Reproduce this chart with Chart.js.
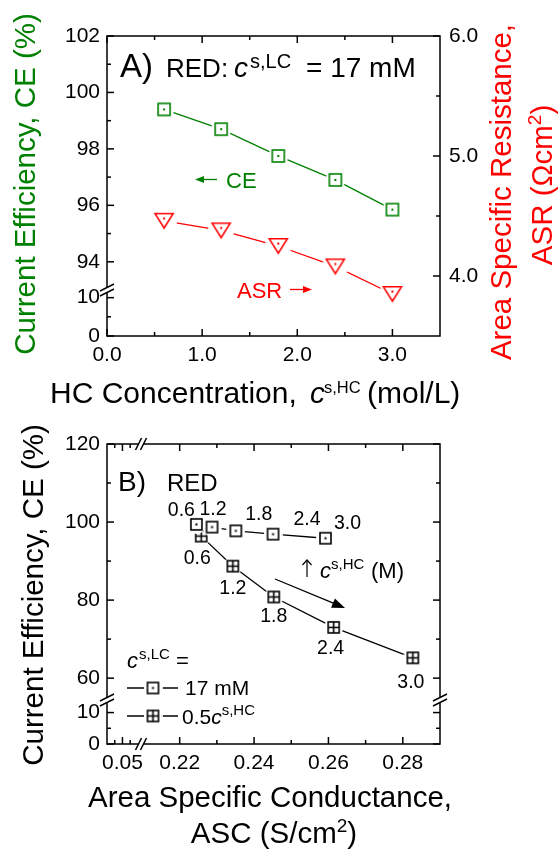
<!DOCTYPE html>
<html>
<head>
<meta charset="utf-8">
<script src="https://cdn.jsdelivr.net/npm/chart.js@4.4.0/dist/chart.umd.min.js"></script>
<style>
  html, body { margin: 0; padding: 0; background: #fff; }
  #wrap { position: relative; width: 558px; height: 849px; }
  canvas { position: absolute; left: 0; top: 0; }
</style>
</head>
<body>
<div id="wrap">
  <canvas id="chartA" width="558" height="849"></canvas>
  <canvas id="chartB" width="558" height="849"></canvas>
</div>
<script>
// HC concentration (mol/L) for each point
var hcConc = [0.6, 1.2, 1.8, 2.4, 3.0];
// panel A
var ceLC = [99.4, 98.7, 97.75, 96.9, 95.85];
var asrLC = [4.46, 4.38, 4.25, 4.08, 3.85];
// panel B
var ascLC = [0.2245, 0.2287, 0.2351, 0.2451, 0.2592];
var ascHC = [0.2258, 0.2343, 0.2453, 0.2614, 0.2827];
var ceHC = [96.4, 88.7, 80.8, 73.0, 65.2];

// tick labels
var concTicks = [0, 1, 2, 3];
var concMinor = [0.5, 1.5, 2.5];
var ceTicksA = [94, 96, 98, 100, 102];
var ceMinorA = [95, 97, 99, 101];
var lowTicks = [0, 10];
var lowMinor = [5];
var asrTicks = [4, 5, 6];
var asrMinor = [4.5, 5.5];
var ceTicksB = [60, 80, 100, 120];
var ceMinorB = [70, 90, 110];
var ascLowTicks = [0.05];
var ascLowMinor = [0.025, 0.075];
var ascTicks = [0.22, 0.24, 0.26, 0.28];
var ascMinor = [0.23, 0.25, 0.27];

var FONT = '"Liberation Sans", Arial, sans-serif';
var green = '#008000', red = '#ff0000';
Chart.defaults.font.family = FONT;
Chart.defaults.color = '#000';

function makeMarker(shape, color, inner, size) {
    var pad = 4;
    var c = document.createElement('canvas');
    c.width = c.height = size + 2 * pad;
    var g = c.getContext('2d'), m = c.width / 2;
    g.fillStyle = '#fff';
    g.beginPath(); g.arc(m, m, m, 0, Math.PI * 2); g.fill();
    g.strokeStyle = color; g.fillStyle = color; g.lineWidth = 1.6;
    if (shape === 'tri') {
        var h = size * 0.8;
        g.beginPath();
        g.moveTo(m - size / 2, m - h / 2); g.lineTo(m + size / 2, m - h / 2); g.lineTo(m, m + h / 2);
        g.closePath(); g.stroke();
        g.fillRect(m - 1, m - h / 6 - 1, 2, 2);
    } else {
        g.strokeRect(m - size / 2, m - size / 2, size, size);
        if (inner === 'dot') {
            g.fillRect(m - 1, m - 1, 2, 2);
        } else {
            g.beginPath();
            g.moveTo(m - size / 2, m); g.lineTo(m + size / 2, m);
            g.moveTo(m, m - size / 2); g.lineTo(m, m + size / 2);
            g.stroke();
        }
    }
    return c;
}
var markCE = makeMarker('sq', green, 'dot', 12);
var markASR = makeMarker('tri', red, 'dot', 18);
var markLC = makeMarker('sq', '#000', 'dot', 11);
var markHC = makeMarker('sq', '#000', 'plus', 11);

function pts(xs, ys) {
    return xs.map(function (x, i) { return {x: x, y: ys[i]}; });
}

function axis(o) {
    return {
        type: 'linear', axis: o.axis, position: o.position, min: o.min, max: o.max,
        stack: o.stack, stackWeight: o.stackWeight || 1, weight: o.weight || 0,
        grid: {display: false, drawTicks: false},
        border: {display: false},
        afterBuildTicks: function (s) { s.ticks = o.values.map(function (v) { return {value: v}; }); },
        afterFit: function (s) {
            if (o.axis === 'y') s.width = o.size; else s.height = o.size;
        },
        ticks: {
            font: {size: 21}, color: '#000', padding: o.pad, autoSkip: false, maxRotation: 0,
            callback: function (v) { return Number(v).toFixed(o.digits); }
        }
    };
}

function drawRuns(ctx, item) {
    ctx.save();
    ctx.translate(item.x, item.y);
    if (item.rot) ctx.rotate(item.rot);
    ctx.textBaseline = 'alphabetic';
    ctx.textAlign = 'left';
    ctx.fillStyle = item.color || '#000';
    var w = 0;
    item.runs.forEach(function (r) {
        ctx.font = (r.it ? 'italic ' : '') + (r.size || item.size) + 'px ' + FONT;
        r.w = ctx.measureText(r.t).width;
        w += r.w;
    });
    var cx = item.align === 'center' ? -w / 2 : 0;
    item.runs.forEach(function (r) {
        ctx.font = (r.it ? 'italic ' : '') + (r.size || item.size) + 'px ' + FONT;
        var x = r.x !== undefined ? r.x - item.x : cx;
        ctx.fillText(r.t, x, r.up ? -r.up : 0);
        cx = x + r.w;
    });
    ctx.restore();
}

// arrow from (x1,y1) to tip (x2,y2); filled or open head
function drawArrow(ctx, a) {
    var ang = Math.atan2(a.y2 - a.y1, a.x2 - a.x1), L = a.len, W = a.half;
    var c = Math.cos(ang), s = Math.sin(ang);
    ctx.save();
    ctx.strokeStyle = a.color; ctx.fillStyle = a.color; ctx.lineWidth = a.width || 1.3;
    ctx.beginPath();
    ctx.moveTo(a.x1, a.y1);
    ctx.lineTo(a.open ? a.x2 : a.x2 - (L - 1) * c, a.open ? a.y2 : a.y2 - (L - 1) * s);
    ctx.stroke();
    ctx.beginPath();
    ctx.moveTo(a.x2 - L * c + W * s, a.y2 - L * s - W * c);
    ctx.lineTo(a.x2, a.y2);
    ctx.lineTo(a.x2 - L * c - W * s, a.y2 - L * s + W * c);
    if (a.open) { ctx.stroke(); } else { ctx.closePath(); ctx.fill(); }
    ctx.restore();
}

// box, inward ticks and axis breaks
function framePlugin(spec) {
    return {
        id: 'frame',
        afterDatasetsDraw: function (chart) {
            var ctx = chart.ctx, a = chart.chartArea;
            ctx.save();
            ctx.strokeStyle = '#000';
            ctx.lineWidth = 1.5;
            ctx.strokeRect(a.left, a.top, a.right - a.left, a.bottom - a.top);
            spec.ticks.forEach(function (t) {
                var sc = chart.scales[t.scale];
                [[t.major, 7], [t.minor, 4]].forEach(function (set) {
                    set[0].forEach(function (v) {
                        var p = sc.getPixelForValue(v), L = set[1];
                        t.edges.forEach(function (e) {
                            ctx.beginPath();
                            if (e === 'left') { ctx.moveTo(a.left, p); ctx.lineTo(a.left + L, p); }
                            if (e === 'right') { ctx.moveTo(a.right, p); ctx.lineTo(a.right - L, p); }
                            if (e === 'bottom') { ctx.moveTo(p, a.bottom); ctx.lineTo(p, a.bottom - L); }
                            if (e === 'top') { ctx.moveTo(p, a.top); ctx.lineTo(p, a.top + L); }
                            ctx.stroke();
                        });
                    });
                });
            });
            spec.breaks.forEach(function (b) {
                var p = chart.scales[b.scale][b.end], g = 2.5;
                b.edges.forEach(function (e) {
                    var vert = e === 'left' || e === 'right';
                    var x = vert ? a[e] : p, y = vert ? p : a[e];
                    ctx.fillStyle = '#fff';
                    if (vert) ctx.fillRect(x - 2, y - g, 4, 2 * g);
                    else ctx.fillRect(x - g, y - 2, 2 * g, 4);
                    [-g, g].forEach(function (d) {
                        ctx.beginPath();
                        if (vert) { ctx.moveTo(x - 7, y + d + 3.5); ctx.lineTo(x + 7, y + d - 3.5); }
                        else { ctx.moveTo(x + d - 3, y + 6); ctx.lineTo(x + d + 3, y - 6); }
                        ctx.stroke();
                    });
                });
            });
            ctx.restore();
        }
    };
}

function notesPlugin(items, arrows, extra) {
    return {
        id: 'notes',
        afterDraw: function (chart) {
            var ctx = chart.ctx;
            items.forEach(function (it) { drawRuns(ctx, it); });
            arrows.forEach(function (ar) { drawArrow(ctx, ar); });
            if (extra) extra(chart, ctx);
        }
    };
}

// ---------- panel A ----------
var notesA = [
    {x: 35, y: 184, rot: -Math.PI / 2, align: 'center', size: 29.5, color: green,
        runs: [{t: 'Current Efficiency, CE (%)'}]},
    {x: 511, y: 192, rot: -Math.PI / 2, align: 'center', size: 29.5, color: red,
        runs: [{t: 'Area Specific Resistance,'}]},
    {x: 552, y: 185, rot: -Math.PI / 2, align: 'center', size: 29.5, color: red,
        runs: [{t: 'ASR (\u03A9cm'}, {t: '2', size: 19, up: 11}, {t: ')'}]},
    {x: 50, y: 403, size: 30,
        runs: [{t: 'HC Concentration,'}, {t: 'c', it: true, x: 310}, {t: 's,HC', size: 16.5, up: 10, x: 324}, {t: '(mol/L)', x: 367}]},
    {x: 120, y: 77, size: 33,
        runs: [{t: 'A)'}, {t: 'RED:', size: 26, x: 166}, {t: 'c', it: true, size: 28, x: 234},
            {t: 's,LC', size: 20, up: 9, x: 250}, {t: '= 17 mM', size: 28, x: 306}]},
    {x: 226, y: 188, size: 22, color: green, runs: [{t: 'CE'}]},
    {x: 237, y: 298, size: 22, color: red, runs: [{t: 'ASR'}]}
];
var arrowsA = [
    {x1: 217, y1: 179.5, x2: 195, y2: 179.5, len: 9, half: 3.5, color: green},
    {x1: 290, y1: 289.5, x2: 312, y2: 289.5, len: 9, half: 3.5, color: red}
];

new Chart(document.getElementById('chartA'), {
    type: 'scatter',
    data: {
        datasets: [{
            label: 'CE',
            data: pts(hcConc, ceLC),
            xAxisID: 'x', yAxisID: 'yHi',
            showLine: true, borderColor: green, borderWidth: 1.3,
            pointStyle: markCE, pointRadius: 6
        }, {
            label: 'ASR',
            data: pts(hcConc, asrLC),
            xAxisID: 'x', yAxisID: 'yR',
            showLine: true, borderColor: red, borderWidth: 1.3,
            pointStyle: markASR, pointRadius: 6
        }]
    },
    options: {
        responsive: false,
        animation: false,
        devicePixelRatio: 1,
        events: [],
        layout: {padding: {top: 36, left: 0, right: 0, bottom: 0}},
        plugins: {legend: {display: false}, tooltip: {enabled: false}},
        scales: {
            x: axis({axis: 'x', position: 'bottom', min: 0, max: 3.5, values: concTicks, digits: 1, size: 513, pad: 7}),
            yHi: axis({axis: 'y', position: 'left', min: 93, max: 102, values: ceTicksA, digits: 0, size: 107, pad: 7,
                stack: 'L', stackWeight: 254, weight: 2}),
            yLo: axis({axis: 'y', position: 'left', min: 0, max: 12, values: lowTicks, digits: 0, size: 107, pad: 7,
                stack: 'L', stackWeight: 46, weight: 1}),
            yR: axis({axis: 'y', position: 'right', min: 3.5, max: 6, values: asrTicks, digits: 1, size: 118, pad: 9})
        }
    },
    plugins: [
        framePlugin({
            ticks: [
                {scale: 'x', major: concTicks, minor: concMinor, edges: ['bottom', 'top']},
                {scale: 'yHi', major: ceTicksA, minor: ceMinorA, edges: ['left']},
                {scale: 'yLo', major: lowTicks, minor: lowMinor, edges: ['left']},
                {scale: 'yR', major: asrTicks, minor: asrMinor, edges: ['right']}
            ],
            breaks: [{scale: 'yLo', end: 'top', edges: ['left']}]
        }),
        notesPlugin(notesA, arrowsA)
    ]
});

// ---------- panel B ----------
var labelOffLC = [[-15, -8], [1, -12], [23, -11], [34, -9], [22, -9]];
var labelOffHC = [[-4, 28], [0, 28], [0, 25], [-3, 27], [-2, 30]];

var notesB = [
    {x: 43, y: 595, rot: -Math.PI / 2, align: 'center', size: 29.5, runs: [{t: 'Current Efficiency, CE (%)'}]},
    {x: 270, y: 807, align: 'center', size: 29.5, runs: [{t: 'Area Specific Conductance,'}]},
    {x: 274, y: 843, align: 'center', size: 29.5, runs: [{t: 'ASC (S/cm'}, {t: '2', size: 19, up: 11}, {t: ')'}]},
    {x: 118, y: 491, size: 28, runs: [{t: 'B)'}, {t: 'RED', size: 24, x: 167}]},
    {x: 320, y: 578, size: 22,
        runs: [{t: 'c', it: true}, {t: 's,HC', size: 15, up: 9, x: 331}, {t: '(M)', x: 371}]},
    {x: 127, y: 668, size: 22, runs: [{t: 'c', it: true}, {t: 's,LC', size: 15, up: 9, x: 139}, {t: '=', x: 176}]},
    {x: 185, y: 695, size: 21, runs: [{t: '17 mM'}]},
    {x: 182, y: 724, size: 21, runs: [{t: '0.5'}, {t: 'c', it: true}, {t: 's,HC', size: 15, up: 9}]}
];
var arrowsB = [
    {x1: 275, y1: 579, x2: 345, y2: 608, len: 13, half: 5, color: '#000'},
    {x1: 307, y1: 577, x2: 307, y2: 560, len: 5, half: 4.5, color: '#000', open: true, width: 1.2}
];
var legendRows = [{y: 688, mark: markLC}, {y: 716, mark: markHC}];

function drawExtrasB(chart, ctx) {
    // concentration labels next to each point
    [[0, labelOffLC], [1, labelOffHC]].forEach(function (d) {
        var meta = chart.getDatasetMeta(d[0]);
        meta.data.forEach(function (el, i) {
            drawRuns(ctx, {x: el.x + d[1][i][0], y: el.y + d[1][i][1], align: 'center', size: 19.5,
                runs: [{t: hcConc[i].toFixed(1)}]});
        });
    });
    // legend samples
    ctx.save();
    ctx.strokeStyle = '#000';
    ctx.lineWidth = 1.3;
    legendRows.forEach(function (r) {
        ctx.beginPath(); ctx.moveTo(127, r.y); ctx.lineTo(178, r.y); ctx.stroke();
        ctx.drawImage(r.mark, 153 - r.mark.width / 2, r.y - r.mark.height / 2);
    });
    ctx.restore();
}

new Chart(document.getElementById('chartB'), {
    type: 'scatter',
    data: {
        datasets: [{
            label: '17 mM',
            data: pts(ascLC, ceLC),
            xAxisID: 'xHi', yAxisID: 'yHi',
            showLine: true, borderColor: '#000', borderWidth: 1.3,
            pointStyle: markLC, pointRadius: 6
        }, {
            label: '0.5 c s,HC',
            data: pts(ascHC, ceHC),
            xAxisID: 'xHi', yAxisID: 'yHi',
            showLine: true, borderColor: '#000', borderWidth: 1.3,
            pointStyle: markHC, pointRadius: 6
        }]
    },
    options: {
        responsive: false,
        animation: false,
        devicePixelRatio: 1,
        events: [],
        layout: {padding: {top: 444, left: 0, right: 118, bottom: 0}},
        plugins: {legend: {display: false}, tooltip: {enabled: false}},
        scales: {
            xLo: axis({axis: 'x', position: 'bottom', min: 0, max: 0.11, values: ascLowTicks, digits: 2, size: 105, pad: 7,
                stack: 'B', stackWeight: 34, weight: 1}),
            xHi: axis({axis: 'x', position: 'bottom', min: 0.2096, max: 0.29, values: ascTicks, digits: 2, size: 105, pad: 7,
                stack: 'B', stackWeight: 299, weight: 2}),
            yHi: axis({axis: 'y', position: 'left', min: 54.4, max: 120, values: ceTicksB, digits: 0, size: 107, pad: 7,
                stack: 'L', stackWeight: 256, weight: 2}),
            yLo: axis({axis: 'y', position: 'left', min: 0, max: 14, values: lowTicks, digits: 0, size: 107, pad: 7,
                stack: 'L', stackWeight: 44, weight: 1})
        }
    },
    plugins: [
        framePlugin({
            ticks: [
                {scale: 'xLo', major: ascLowTicks, minor: ascLowMinor, edges: ['bottom', 'top']},
                {scale: 'xHi', major: ascTicks, minor: ascMinor, edges: ['bottom', 'top']},
                {scale: 'yHi', major: ceTicksB, minor: ceMinorB, edges: ['left', 'right']},
                {scale: 'yLo', major: lowTicks, minor: lowMinor, edges: ['left', 'right']}
            ],
            breaks: [
                {scale: 'yLo', end: 'top', edges: ['left', 'right']},
                {scale: 'xHi', end: 'left', edges: ['bottom', 'top']}
            ]
        }),
        notesPlugin(notesB, arrowsB, drawExtrasB)
    ]
});
</script>
</body>
</html>
